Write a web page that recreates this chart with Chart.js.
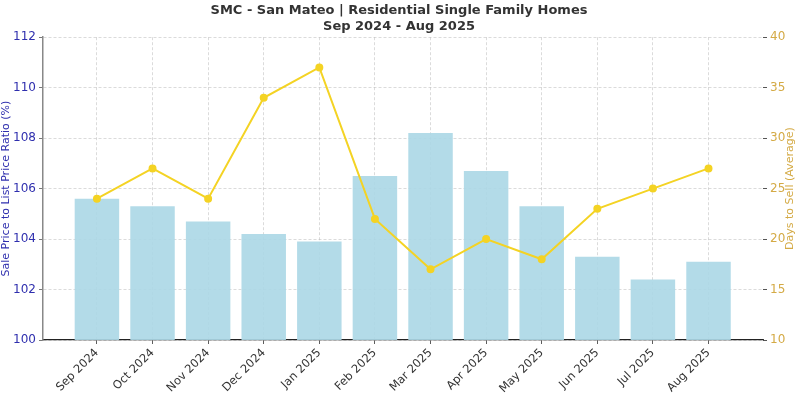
<!DOCTYPE html>
<html>
<head>
<meta charset="utf-8">
<script src="https://cdn.jsdelivr.net/npm/chart.js@4.4.1/dist/chart.umd.min.js"></script>
<style>
  html, body { margin: 0; padding: 0; background: #fff; }
  #wrap { width: 798px; height: 393px; }
</style>
</head>
<body>
<div id="wrap"><canvas id="myChart" width="798" height="393"></canvas></div>
<script>
let months = ['Sep 2024', 'Oct 2024', 'Nov 2024', 'Dec 2024', 'Jan 2025', 'Feb 2025',
              'Mar 2025', 'Apr 2025', 'May 2025', 'Jun 2025', 'Jul 2025', 'Aug 2025'];
let saleToList = [105.6, 105.3, 104.7, 104.2, 103.9, 106.5, 108.2, 106.7, 105.3, 103.3, 102.4, 103.1];
let daysToSell = [24, 27, 24, 34, 37, 22, 17, 20, 18, 23, 25, 27];

let blue = '#2f2fae';
let gold = '#d4aa45';

Chart.defaults.font.family = "'DejaVu Sans', sans-serif";

// right axis title reads bottom-to-top, like the left one
let rightTitle = {
    id: 'rightTitle',
    afterDraw(c) {
        let a = c.chartArea;
        let g = c.ctx;
        g.save();
        g.translate(c.width - 8, (a.top + a.bottom) / 2);
        g.rotate(-Math.PI / 2);
        g.fillStyle = gold;
        g.font = "11px 'DejaVu Sans'";
        g.textAlign = 'center';
        g.textBaseline = 'middle';
        g.fillText('Days to Sell (Average)', 0, 0);
        g.restore();
    }
};

let ctx = document.getElementById('myChart').getContext('2d');

let chart = new Chart(ctx, {
    type: 'bar',
    data: {
        datasets: [{
            type: 'line',
            data: daysToSell.map((v, i) => ({ x: i, y: v })),
            yAxisID: 'y2',
            borderColor: '#f4d324',
            backgroundColor: '#f4d324',
            borderWidth: 2,
            pointRadius: 3,
            pointHoverRadius: 3,
            tension: 0,
            order: 0
        }, {
            type: 'bar',
            data: saleToList.map((v, i) => ({ x: i, y: v })),
            yAxisID: 'y',
            backgroundColor: 'rgba(173, 216, 230, 0.92)',
            barPercentage: 0.8,
            categoryPercentage: 1.0,
            order: 1
        }]
    },
    options: {
        responsive: false,
        animation: false,
        layout: { padding: 0 },
        plugins: {
            legend: { display: false },
            tooltip: { enabled: false },
            title: {
                display: true,
                text: ['SMC - San Mateo | Residential Single Family Homes', 'Sep 2024 - Aug 2025'],
                color: '#333',
                font: { size: 13, weight: 'bold' },
                lineHeight: 1.15,
                padding: { top: 3, bottom: 3 }
            }
        },
        scales: {
            x: {
                type: 'linear',
                min: -0.97,
                max: 11.98,
                offset: false,
                afterBuildTicks: s => { s.ticks = months.map((m, i) => ({ value: i })); },
                afterFit: s => { s.height = 53; },
                ticks: {
                    autoSkip: false,
                    maxRotation: 45,
                    minRotation: 45,
                    color: '#333',
                    font: { size: 11.5 },
                    padding: 2,
                    callback: v => months[v]
                },
                grid: {
                    offset: false,
                    color: 'rgba(180,180,180,0.6)',
                    lineWidth: 0.8,
                    tickColor: '#333',
                    tickLength: 4
                },
                border: { display: true, color: '#222', width: 1.3, dash: [3, 2] }
            },
            y: {
                position: 'left',
                min: 100,
                max: 112,
                afterFit: s => { s.width = 43; },
                ticks: { stepSize: 2, color: blue, font: { size: 12 }, padding: 3 },
                grid: {
                    color: 'rgba(180,180,180,0.6)',
                    lineWidth: 0.8,
                    tickColor: '#555',
                    tickLength: 4
                },
                border: { display: true, color: '#888', width: 1.5, dash: [3, 2] },
                title: {
                    display: true,
                    text: 'Sale Price to List Price Ratio (%)',
                    color: blue,
                    font: { size: 11 },
                    padding: 0
                }
            },
            y2: {
                position: 'right',
                min: 10,
                max: 40,
                afterFit: s => { s.width = 35; },
                ticks: { stepSize: 5, color: gold, font: { size: 12 }, padding: 3 },
                grid: {
                    drawOnChartArea: false,
                    tickColor: '#555',
                    tickLength: 4
                },
                border: { display: false }
            }
        }
    },
    plugins: [rightTitle]
});
</script>
</body>
</html>
